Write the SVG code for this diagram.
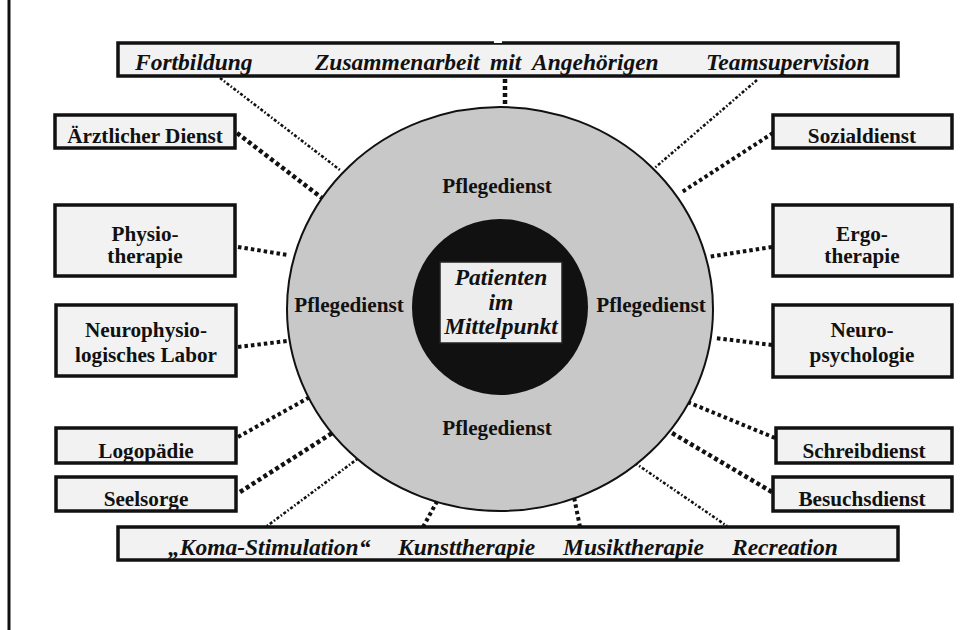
<svg xmlns="http://www.w3.org/2000/svg" width="961" height="630" viewBox="0 0 961 630">
<style>
.box{fill:#f2f2f2;stroke:#111;stroke-width:3.5}
.bt{font-family:"Liberation Serif","Times New Roman",serif;font-weight:bold;font-size:21.2px;fill:#111;text-anchor:middle}
.it{font-family:"Liberation Serif","Times New Roman",serif;font-weight:bold;font-style:italic;font-size:23.5px;fill:#111}
.thick{stroke:#111;stroke-width:4.5;stroke-dasharray:4 3;fill:none}
.med{stroke:#111;stroke-width:4;stroke-dasharray:3.5 3;fill:none}
.thin{stroke:#111;stroke-width:2.6;stroke-dasharray:3 2 1.5 2;fill:none}
</style>
<rect width="961" height="630" fill="#fff"/>
<line x1="9" y1="0" x2="9" y2="630" stroke="#111" stroke-width="3"/>

<g id="connectors">
<line class="thick" x1="505" y1="79" x2="505" y2="107"/>
<line class="thin" x1="220" y1="78" x2="340" y2="170"/>
<line class="thin" x1="757" y1="80" x2="650" y2="172"/>
<line class="thick" x1="237" y1="133" x2="322" y2="198"/>
<line class="med" x1="238" y1="247" x2="288" y2="255"/>
<line class="med" x1="238" y1="347" x2="295" y2="340"/>
<line class="med" x1="238" y1="437" x2="310" y2="397"/>
<line class="thick" x1="240" y1="492" x2="337" y2="430"/>
<line class="thin" x1="263" y1="529" x2="360" y2="457"/>
<line class="med" x1="423" y1="527" x2="440" y2="496"/>
<line class="med" x1="580" y1="527" x2="574" y2="497"/>
<line class="thin" x1="635" y1="463" x2="727" y2="526"/>
<line class="med" x1="773" y1="133" x2="682" y2="192"/>
<line class="med" x1="772" y1="247" x2="708" y2="257"/>
<line class="med" x1="772" y1="345" x2="715" y2="338"/>
<line class="med" x1="775" y1="438" x2="673" y2="396"/>
<line class="thick" x1="772" y1="492" x2="672" y2="433"/>
</g>

<g id="pflegedienst">
<ellipse cx="500" cy="309" rx="213" ry="202" fill="#c8c8c8" stroke="#111" stroke-width="2"/>
<text class="bt" x="497" y="193">Pflegedienst</text>
<text class="bt" x="349" y="312">Pflegedienst</text>
<text class="bt" x="651" y="312">Pflegedienst</text>
<text class="bt" x="497" y="435">Pflegedienst</text>
</g>

<g id="patienten">
<circle cx="500" cy="307" r="88" fill="#111"/>
<rect x="440" y="262" width="122" height="81" fill="#ededed" stroke="#222" stroke-width="1.5"/>
<text class="it" x="501" y="285" text-anchor="middle" font-size="21.5">Patienten</text>
<text class="it" x="501" y="310" text-anchor="middle" font-size="21.5">im</text>
<text class="it" x="501" y="334" text-anchor="middle" font-size="21.5">Mittelpunkt</text>
</g>

<g id="top-bar">
<rect class="box" x="118" y="43" width="780" height="33"/>
<rect x="494" y="41" width="8" height="2" fill="#fff"/>
<text class="it" x="135" y="70">Fortbildung</text>
<text class="it" x="315" y="70">Zusammenarbeit</text>
<text class="it" x="490" y="70">mit</text>
<text class="it" x="532" y="70">Angehörigen</text>
<text class="it" x="706" y="70">Teamsupervision</text>
</g>

<g id="bottom-bar">
<rect class="box" x="118" y="527" width="780" height="33"/>
<text class="it" x="168" y="555">„Koma-Stimulation“</text>
<text class="it" x="398" y="555">Kunsttherapie</text>
<text class="it" x="563" y="555">Musiktherapie</text>
<text class="it" x="732" y="555">Recreation</text>
</g>

<g id="aerztlicher-dienst">
<rect class="box" x="55" y="115" width="180" height="33"/>
<text class="bt" x="145" y="143">Ärztlicher Dienst</text>
</g>
<g id="physiotherapie">
<rect class="box" x="55" y="205" width="180" height="71"/>
<text class="bt" x="145" y="241">Physio-</text>
<text class="bt" x="145" y="263">therapie</text>
</g>
<g id="neurophysiologisches-labor">
<rect class="box" x="56" y="305" width="180" height="71"/>
<text class="bt" x="146" y="337">Neurophysio-</text>
<text class="bt" x="146" y="362">logisches Labor</text>
</g>
<g id="logopaedie">
<rect class="box" x="56" y="428" width="180" height="35"/>
<text class="bt" x="146" y="458">Logopädie</text>
</g>
<g id="seelsorge">
<rect class="box" x="56" y="477" width="180" height="34"/>
<text class="bt" x="146" y="506">Seelsorge</text>
</g>

<g id="sozialdienst">
<rect class="box" x="773" y="115" width="179" height="33"/>
<text class="bt" x="862" y="143">Sozialdienst</text>
</g>
<g id="ergotherapie">
<rect class="box" x="773" y="205" width="179" height="71"/>
<text class="bt" x="862" y="241">Ergo-</text>
<text class="bt" x="862" y="263">therapie</text>
</g>
<g id="neuropsychologie">
<rect class="box" x="773" y="305" width="179" height="72"/>
<text class="bt" x="862" y="337">Neuro-</text>
<text class="bt" x="862" y="362">psychologie</text>
</g>
<g id="schreibdienst">
<rect class="box" x="776" y="428" width="176" height="35"/>
<text class="bt" x="864" y="458">Schreibdienst</text>
</g>
<g id="besuchsdienst">
<rect class="box" x="773" y="477" width="179" height="34"/>
<text class="bt" x="862" y="506">Besuchsdienst</text>
</g>
</svg>
